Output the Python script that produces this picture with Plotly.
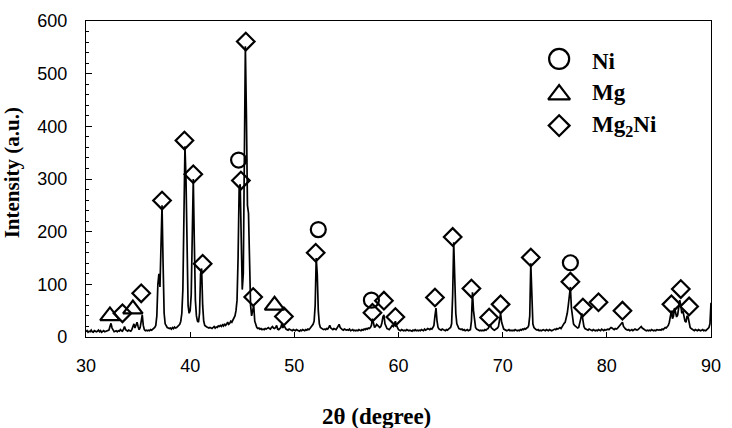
import plotly.graph_objects as go

# ---- XRD pattern (2theta grid 30.0 ... 90.0 in 0.1 deg steps) ----
two_theta = [round(30 + 0.1 * i, 1) for i in range(601)]
intensity = [
    10, 12, 9, 11, 10, 13, 10, 9, 12, 11,        # 30
    10, 11, 13, 10, 12, 9, 11, 12, 10, 11,       # 31
    11, 12, 13, 20, 26, 17, 12, 10, 11, 12,      # 32
    10, 12, 11, 14, 12, 11, 15, 20, 14, 12,      # 33
    11, 13, 12, 11, 14, 18, 25, 17, 22, 28,      # 34
    20, 14, 18, 35, 42, 22, 14, 12, 13, 12,      # 35
    13, 12, 14, 13, 15, 16, 18, 22, 40, 100,     # 36
    120, 95, 170, 250, 140, 45, 25, 20, 18, 17,  # 37
    16, 17, 15, 18, 16, 19, 17, 18, 20, 22,      # 38
    24, 30, 45, 90, 230, 362, 300, 120, 60, 45,  # 39
    50, 80, 240, 300, 180, 70, 40, 30, 28, 45,   # 40
    120, 130, 60, 30, 22, 20, 19, 18, 17, 18,    # 41
    17, 16, 18, 20, 17, 19, 18, 21, 20, 22,      # 42
    20, 23, 21, 25, 22, 24, 28, 24, 26, 30,      # 43
    28, 32, 35, 40, 50, 70, 150, 280, 290, 200,  # 44
    90, 120, 380, 552, 420, 250, 235, 120, 60, 40,  # 45
    55, 60, 30, 22, 18, 16, 17, 15, 16, 14,      # 46
    15, 14, 16, 15, 17, 18, 16, 15, 18, 20,      # 47
    17, 16, 18, 22, 15, 14, 16, 18, 25, 17,      # 48
    22, 18, 15, 14, 13, 15, 14, 13, 12, 14,      # 49
    13, 12, 14, 13, 12, 11, 13, 12, 14, 13,      # 50
    12, 14, 13, 15, 14, 16, 18, 20, 24, 30,      # 51
    60, 150, 120, 50, 25, 18, 16, 15, 14, 15,    # 52
    14, 16, 15, 18, 22, 17, 15, 14, 16, 15,      # 53
    14, 17, 20, 24, 18, 15, 14, 13, 15, 14,      # 54
    13, 14, 13, 15, 12, 13, 14, 12, 13, 12,      # 55
    13, 12, 14, 13, 12, 14, 13, 15, 14, 16,      # 56
    15, 17, 16, 18, 22, 35, 25, 18, 20, 24,      # 57
    22, 20, 18, 20, 26, 38, 42, 25, 18, 16,      # 58
    15, 14, 16, 18, 22, 20, 24, 30, 22, 16,      # 59
    14, 13, 12, 14, 13, 12, 13, 12, 14, 13,      # 60
    12, 13, 12, 11, 13, 12, 14, 12, 13, 12,      # 61
    13, 12, 14, 13, 12, 15, 13, 14, 16, 15,      # 62
    14, 16, 15, 18, 22, 40, 55, 30, 18, 15,      # 63
    14, 13, 15, 14, 13, 12, 14, 13, 15, 16,      # 64
    18, 25, 80, 180, 110, 45, 25, 18, 16, 15,    # 65
    14, 15, 13, 14, 12, 13, 14, 12, 13, 14,      # 66
    30, 85, 50, 25, 18, 15, 14, 13, 12, 13,      # 67
    12, 13, 12, 14, 13, 15, 16, 20, 24, 18,      # 68
    15, 14, 13, 14, 15, 17, 20, 30, 45, 28,      # 69
    18, 15, 14, 13, 12, 13, 14, 12, 13, 12,      # 70
    13, 12, 14, 13, 12, 13, 12, 14, 13, 15,      # 71
    14, 16, 15, 17, 18, 22, 40, 140, 60, 25,     # 72
    18, 15, 14, 13, 14, 12, 13, 12, 13, 14,      # 73
    13, 12, 14, 13, 12, 14, 13, 12, 13, 14,      # 74
    15, 14, 16, 15, 17, 18, 16, 20, 22, 26,      # 75
    28, 35, 45, 60, 80, 95, 55, 35, 25, 22,      # 76
    20, 18, 17, 18, 25, 35, 45, 30, 20, 16,      # 77
    15, 14, 13, 15, 14, 13, 12, 14, 13, 12,      # 78
    13, 12, 14, 13, 12, 15, 13, 12, 14, 13,      # 79
    14, 15, 14, 16, 18, 17, 15, 14, 16, 15,      # 80
    16, 18, 20, 22, 26, 28, 20, 16, 15, 14,      # 81
    13, 14, 12, 13, 14, 12, 13, 15, 14, 13,      # 82
    14, 16, 18, 20, 17, 15, 14, 13, 12, 13,      # 83
    12, 13, 12, 14, 13, 12, 13, 12, 14, 13,      # 84
    13, 14, 13, 15, 14, 16, 18, 17, 20, 22,      # 85
    28, 45, 50, 35, 40, 55, 45, 38, 42, 55,      # 86
    70, 60, 45, 50, 35, 30, 28, 40, 38, 25,      # 87
    18, 16, 14, 13, 12, 14, 13, 12, 14, 13,      # 88
    12, 13, 14, 12, 13, 12, 14, 15, 18, 25,      # 89
    65,                                          # 90
]

# ---- phase identification markers ----
ni_x = [44.65, 52.3, 57.4, 76.5]
ni_y = [336, 204, 70, 141]
mg_x = [32.3, 34.5, 48.1]
mg_y = [40, 53, 60]
mg2ni_x = [33.5, 35.3, 37.3, 39.45, 40.3, 41.2, 44.87, 45.34, 46.05, 49.0,
           52.05, 57.5, 58.6, 59.7, 63.5, 65.2, 67.0, 68.7, 69.8, 72.7,
           76.5, 77.7, 79.2, 81.5, 86.2, 87.1, 87.9]
mg2ni_y = [45, 83, 259, 373, 309, 139, 297, 561, 76, 39,
           160, 46, 69, 38, 75, 190, 92, 37, 62, 151,
           105, 56, 66, 50, 62, 91, 58]

x_ticks = [30, 40, 50, 60, 70, 80, 90]
y_ticks = [0, 100, 200, 300, 400, 500, 600]

legend_names = ["Ni", "Mg", "Mg<sub>2</sub>Ni"]
legend_symbols = ["circle-open", "triangle-up-open", "diamond-open"]
legend_sizes = [20, 19, 16]

serif = "Liberation Serif, Times New Roman, serif"
sans = "Liberation Sans, Arial, sans-serif"

fig = go.Figure()
fig.add_trace(go.Scatter(x=two_theta, y=intensity, mode="lines",
                         line=dict(color="black", width=1.7), showlegend=False))
fig.add_trace(go.Scatter(x=ni_x, y=ni_y, mode="markers", showlegend=False,
                         marker=dict(symbol="circle-open", size=15, color="black",
                                     line=dict(width=2.2, color="black"))))
fig.add_trace(go.Scatter(x=mg_x, y=mg_y, mode="markers", showlegend=False,
                         marker=dict(symbol="triangle-up-open", size=17, color="black",
                                     line=dict(width=2.2, color="black"))))
fig.add_trace(go.Scatter(x=mg2ni_x, y=mg2ni_y, mode="markers", showlegend=False,
                         marker=dict(symbol="diamond-open", size=13.5, color="black",
                                     line=dict(width=2.2, color="black"))))

# legend key (drawn on an overlay axis spanning the plot area, 0..1)
leg_x = [0.757, 0.757, 0.757]
leg_y = [0.880, 0.767, 0.669]
for i in range(3):
    fig.add_trace(go.Scatter(x=[leg_x[i]], y=[leg_y[i]], xaxis="x2", yaxis="y2",
                             mode="markers", showlegend=False,
                             marker=dict(symbol=legend_symbols[i], size=legend_sizes[i],
                                         color="black", line=dict(width=2.2, color="black"))))
    fig.add_annotation(x=0.806, y=[0.873, 0.773, 0.669][i], xref="x2", yref="y2",
                       text="<b>" + legend_names[i] + "</b>", showarrow=False,
                       xanchor="left", yanchor="middle",
                       font=dict(family=serif, size=23, color="black"))

fig.add_annotation(x=-0.119, y=0.52, xref="paper", yref="paper",
                   text="<b>Intensity (a.u.)</b>", textangle=-90, showarrow=False,
                   xanchor="center", yanchor="middle",
                   font=dict(family=serif, size=21, color="black"))
fig.add_annotation(x=0.465, y=-0.25, xref="paper", yref="paper",
                   text="<b>2θ (degree)</b>", showarrow=False,
                   xanchor="center", yanchor="middle",
                   font=dict(family=serif, size=23, color="black"))

fig.update_layout(
    width=732, height=428,
    margin=dict(l=86, r=11, t=20, b=91),
    paper_bgcolor="white", plot_bgcolor="white",
    showlegend=False,
    xaxis=dict(range=[30, 90], tickvals=x_ticks, ticks="inside", ticklen=5,
               tickcolor="black", showline=True, linecolor="black", linewidth=1.3,
               mirror=True, showgrid=False, zeroline=False,
               tickfont=dict(family=sans, size=18, color="black"),
               ticklabelstandoff=12),
    yaxis=dict(range=[0, 600], tickvals=y_ticks, ticks="inside", ticklen=6,
               tickcolor="black", showline=True, linecolor="black", linewidth=1.3,
               mirror=True, showgrid=False, zeroline=False,
               tickfont=dict(family=sans, size=18, color="black"),
               ticklabelstandoff=14,
               minor=dict(dtick=20, ticks="inside", ticklen=3, tickcolor="black")),
    xaxis2=dict(range=[0, 1], overlaying="x", visible=False, fixedrange=True),
    yaxis2=dict(range=[0, 1], overlaying="y", visible=False, fixedrange=True),
)

fig.write_html("out.html")
